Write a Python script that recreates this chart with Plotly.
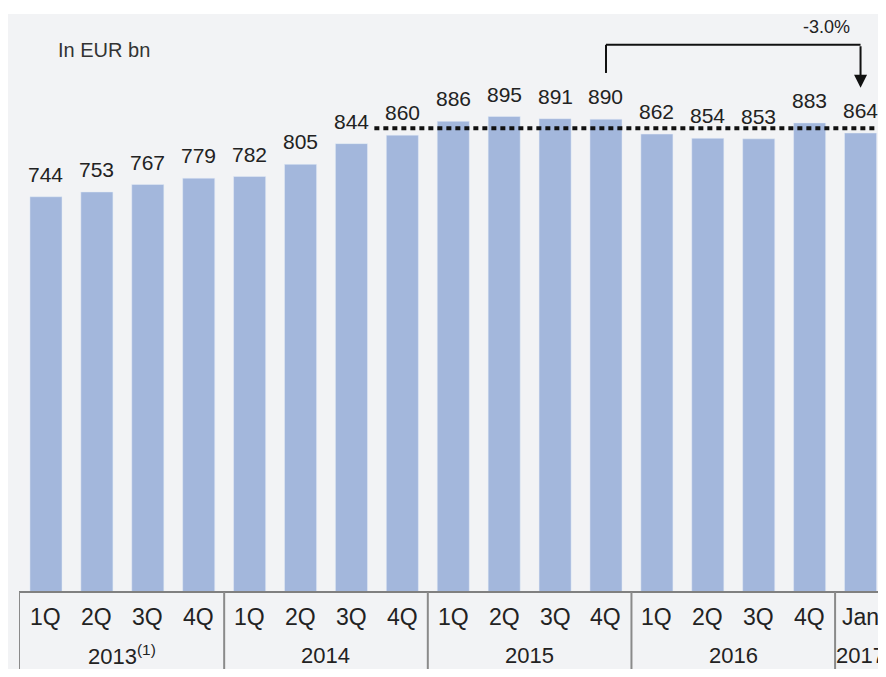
import plotly.graph_objects as go

# Data (In EUR bn)
quarters = ["1Q", "2Q", "3Q", "4Q", "1Q", "2Q", "3Q", "4Q", "1Q", "2Q", "3Q", "4Q",
            "1Q", "2Q", "3Q", "4Q", "Jan"]
values = [744, 753, 767, 779, 782, 805, 844, 860, 886, 895, 891, 890,
          862, 854, 853, 883, 864]
years = ["2013<sup>(1)</sup>", "2014", "2015", "2016", "2017"]
year_centers = [1.5, 5.5, 9.5, 13.5, 16]
year_bounds = [-0.53, 3.5, 7.5, 11.5, 15.5]
ref_level = 873
change_label = "-3.0%"

# the page body adds an 8px margin, so the figure is a bit smaller than the window
W, H = 878, 661
L, R, T, B = 11, 0, 6, 77
plot_w = W - L - R
plot_h = H - T - B

bar_color = "#a3b7dc"
text_color = "#222222"
panel_color = "#f2f3f5"
font = "Liberation Sans, Arial, sans-serif"
x = list(range(len(values)))

fig = go.Figure()
fig.add_trace(go.Bar(x=x, y=values, marker_color=bar_color, width=0.63,
                     hoverinfo="skip"))

annotations = []
# value labels above bars
for xi, v in zip(x, values):
    annotations.append(dict(x=xi, y=v, xref="x", yref="y", text=str(v),
                            showarrow=False, yanchor="bottom", yshift=9,
                            font=dict(size=21, color=text_color, family=font)))
# quarter labels
for xi, q in zip(x, quarters):
    annotations.append(dict(x=xi, y=-25 / plot_h, xref="x", yref="paper", text=q,
                            showarrow=False, yanchor="middle",
                            font=dict(size=23, color=text_color, family=font)))
# year labels
for xc, yr in zip(year_centers, years):
    annotations.append(dict(x=xc, y=-63 / plot_h, xref="x", yref="paper", text=yr,
                            showarrow=False, yanchor="middle", borderpad=0,
                            font=dict(size=22, color=text_color, family=font)))
annotations.append(dict(x=(48 - L) / plot_w, y=(H - B - 42) / plot_h,
                        xref="paper", yref="paper", text="In EUR bn",
                        showarrow=False, xanchor="left", yanchor="middle",
                        font=dict(size=20, color="#333333", family=font)))
# change arrow
annotations.append(dict(x=16, y=949, xref="x", yref="y", ax=16, ay=1030,
                        axref="x", ayref="y", text="", showarrow=True,
                        arrowhead=2, arrowsize=1.3, arrowwidth=2,
                        arrowcolor="#111111"))
annotations.append(dict(x=15.33, y=1063, xref="x", yref="y", text=change_label,
                        showarrow=False,
                        font=dict(size=18, color=text_color, family=font)))

shapes = [
    # white strip above the grey panel
    dict(type="rect", xref="paper", yref="paper", x0=-L / plot_w, x1=1,
         y0=1, y1=1 + T / plot_h, fillcolor="white", line_width=0,
         layer="below"),
    # axis line
    dict(type="line", xref="paper", yref="paper", x0=0, x1=1, y0=0, y1=0,
         line=dict(color="#808080", width=2)),
    # dotted reference line
    dict(type="line", xref="x", yref="y", x0=6.45, x1=16.55, y0=ref_level,
         y1=ref_level, line=dict(color="#111111", width=4, dash="5px,4px")),
    # bracket
    dict(type="line", xref="x", yref="y", x0=11, x1=11, y0=977, y1=1030,
         line=dict(color="#111111", width=2)),
    dict(type="line", xref="x", yref="y", x0=11, x1=16, y0=1030, y1=1030,
         line=dict(color="#111111", width=2)),
]
for xb in year_bounds:
    shapes.append(dict(type="line", xref="x", yref="paper", x0=xb, x1=xb,
                       y0=0, y1=-B / plot_h,
                       line=dict(color="#8a8a8a", width=2)))

fig.update_layout(
    width=W, height=H,
    margin=dict(l=L, r=R, t=T, b=B),
    paper_bgcolor=panel_color, plot_bgcolor="rgba(0,0,0,0)",
    showlegend=False,
    xaxis=dict(range=[-0.53, 16.5], visible=False, fixedrange=True),
    yaxis=dict(range=[0, 1088], visible=False, fixedrange=True),
    annotations=annotations, shapes=shapes,
    bargap=0.37,
)

fig.write_html("out.html")
